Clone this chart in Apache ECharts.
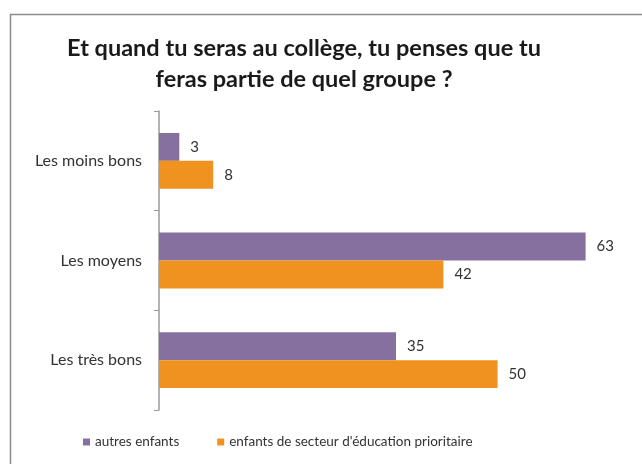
<!DOCTYPE html>
<html>
<head>
<meta charset="utf-8">
<script src="https://cdn.jsdelivr.net/npm/echarts@6/dist/echarts.min.js"></script>
<style>html,body{margin:0;padding:0;background:#fff;}#c{width:642px;height:464px;}</style>
</head>
<body>
<div id="c"></div>
<script>
const categories = ["Les moins bons", "Les moyens", "Les très bons"];
const seriesNames = ["autres enfants", "enfants de secteur d'éducation prioritaire"];
const autres = [3, 63, 35];
const prioritaire = [8, 42, 50];

const chart = echarts.init(document.getElementById('c'));
const font = 'Lato, "Open Sans", sans-serif';
chart.setOption({
  animation: false,
  backgroundColor: '#fff',
  graphic: [{
    type: 'rect', shape: {x: 10.5, y: 14.5, width: 700, height: 500},
    style: {fill: 'none', stroke: '#8c8c8c', lineWidth: 1.5}
  }],
  title: {
    text: "Et quand tu seras au collège, tu penses que tu\nferas partie de quel groupe ?",
    left: 299, top: 28, textAlign: 'center',
    textStyle: {fontFamily: font, fontWeight: 'bold', fontSize: 23.5, color: '#1a1a1a', lineHeight: 31}
  },
  legend: {
    bottom: 10, left: 78,
    itemWidth: 7, itemHeight: 7, itemGap: 38,
    icon: 'rect',
    textStyle: {fontFamily: font, fontSize: 13.5, color: '#333'},
    data: seriesNames
  },
  grid: {left: 159, right: 9, top: 111, bottom: 54},
  xAxis: {type: 'value', min: 0, max: 70, show: false},
  yAxis: {
    type: 'category', data: categories, inverse: true,
    axisLine: {lineStyle: {color: '#9a9a9a', width: 1.5}},
    axisTick: {show: true, length: 5, lineStyle: {color: '#9a9a9a'}},
    axisLabel: {fontFamily: font, fontSize: 16, color: '#333', margin: 17}
  },
  series: [
    {name: seriesNames[0], type: 'bar', data: autres, barGap: '0%', barCategoryGap: '44%',
     itemStyle: {color: '#86709f'},
     label: {show: true, position: 'right', distance: 11, fontFamily: font, fontSize: 15, color: '#333'}},
    {name: seriesNames[1], type: 'bar', data: prioritaire,
     itemStyle: {color: '#ef921f'},
     label: {show: true, position: 'right', distance: 11, fontFamily: font, fontSize: 15, color: '#333'}}
  ]
});
</script>
</body>
</html>
